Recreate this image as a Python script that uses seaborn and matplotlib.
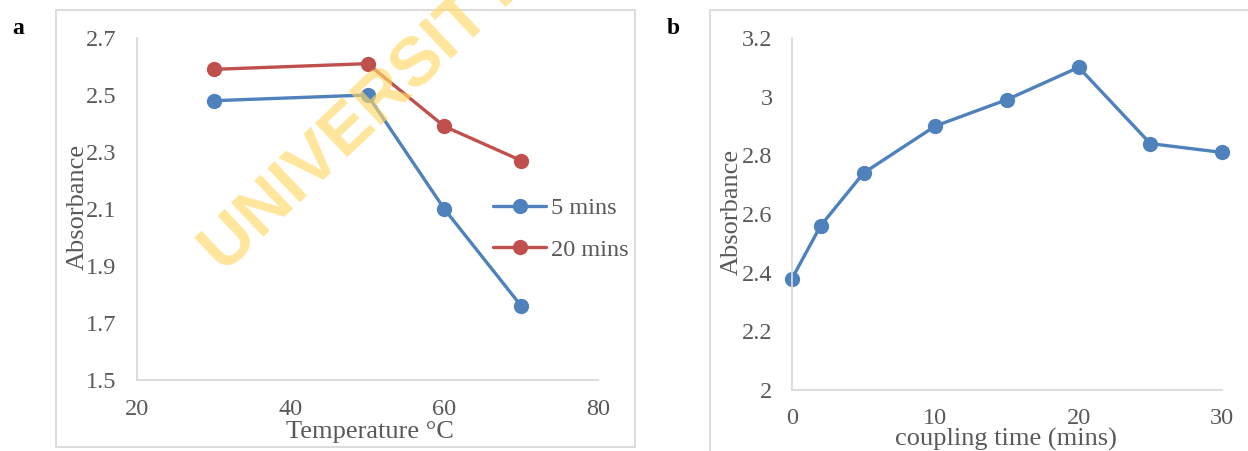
import numpy as np
import pandas as pd
import matplotlib
matplotlib.use("Agg")
import matplotlib.pyplot as plt
from matplotlib.patches import Rectangle
from matplotlib.ticker import FuncFormatter
import seaborn as sns

# data
temp = [30, 50, 60, 70]
abs_5min = [2.48, 2.50, 2.10, 1.76]
abs_20min = [2.59, 2.61, 2.39, 2.27]
series_names = ["5 mins", "20 mins"]

coupling_time = [0, 2, 5, 10, 15, 20, 25, 30]
abs_coupling = [2.38, 2.56, 2.74, 2.90, 2.99, 3.10, 2.84, 2.81]

blue = "#4F81BD"
red = "#C0504D"
grey_txt = "#595959"
grey_line = "#D9D9D9"

sns.set_style("white")
plt.rcParams["font.family"] = ["Liberation Serif", "DejaVu Serif"]

W, H = 1248, 451
fig = plt.figure(figsize=(W / 100, H / 100), dpi=100)

def fx(px):
    return px / W

def fy(py):
    return 1 - py / H

# chart-area borders
fig.patches.append(Rectangle((fx(56), fy(447)), fx(635 - 56), fy(10) - fy(447),
                             transform=fig.transFigure, fill=False, ec=grey_line, lw=1.3))
fig.patches.append(Rectangle((fx(710), fy(470)), fx(600), fy(10) - fy(470),
                             transform=fig.transFigure, fill=False, ec=grey_line, lw=1.3))

ax1 = fig.add_axes([fx(137), fy(380), fx(598 - 137), fy(38) - fy(380)])
ax2 = fig.add_axes([fx(792), fy(390), fx(1222 - 792), fy(38) - fy(390)])

df_a = pd.DataFrame({
    "temp": temp * 2,
    "absorbance": abs_5min + abs_20min,
    "time": [series_names[0]] * len(temp) + [series_names[1]] * len(temp),
})
df_b = pd.DataFrame({"time": coupling_time, "absorbance": abs_coupling})

sns.lineplot(data=df_a, x="temp", y="absorbance", hue="time", hue_order=series_names,
             palette=[blue, red], marker="o", markersize=11, markeredgewidth=0,
             linewidth=2.4, ax=ax1, clip_on=False)
sns.lineplot(data=df_b, x="time", y="absorbance", color=blue, marker="o", markersize=11,
             markeredgewidth=0, linewidth=2.4, ax=ax2, clip_on=False)

fmt = FuncFormatter(lambda v, p: "{:g}".format(round(v, 2)))

for ax in (ax1, ax2):
    for s in ("top", "right"):
        ax.spines[s].set_visible(False)
    for s in ("left", "bottom"):
        ax.spines[s].set_color(grey_line)
        ax.spines[s].set_linewidth(1.3)
    ax.tick_params(length=0, labelsize=17.5, labelcolor=grey_txt)
    ax.yaxis.set_major_formatter(fmt)
    ax.set_xlabel("")
    ax.set_ylabel("")
    ax.set_facecolor("none")

ax1.set_xlim(20, 80)
ax1.set_xticks([20, 40, 60, 80])
ax1.set_ylim(1.5, 2.7)
ax1.set_yticks(np.arange(1.5, 2.71, 0.2))
ax1.tick_params(axis="y", pad=15)
ax1.tick_params(axis="x", pad=14)

ax2.set_xlim(0, 30)
ax2.set_xticks([0, 10, 20, 30])
ax2.set_ylim(2, 3.2)
ax2.set_yticks(np.arange(2, 3.21, 0.2))
ax2.tick_params(axis="y", pad=14)
ax2.tick_params(axis="x", pad=13)

handles, labels = ax1.get_legend_handles_labels()
ax1.legend(handles, labels, loc="center left", bbox_to_anchor=(fx(493), fy(229)),
           bbox_transform=fig.transFigure, frameon=False, fontsize=17.5,
           handlelength=2.2, handletextpad=0.2, labelspacing=0.8,
           borderpad=0, borderaxespad=0, labelcolor=grey_txt)

# axis titles
fig.text(fx(370), fy(432), "Temperature °C", ha="center", va="center", fontsize=19, color=grey_txt)
fig.text(fx(78), fy(207), "Absorbance", ha="center", va="center", rotation=90, fontsize=19, color=grey_txt)
fig.text(fx(1006), fy(439), "coupling time (mins)", ha="center", va="center", fontsize=19, color=grey_txt)
fig.text(fx(732), fy(212), "Absorbance", ha="center", va="center", rotation=90, fontsize=19, color=grey_txt)

# panel letters
fig.text(fx(18), fy(28), "a", ha="center", va="center", fontsize=17, fontweight="bold", color="black")
fig.text(fx(673), fy(28), "b", ha="center", va="center", fontsize=17, fontweight="bold", color="black")

# watermark
fig.text(fx(225), fy(275), "UNIVERSITY OF IBADAN", ha="left", va="baseline", rotation=43.5,
         rotation_mode="anchor", fontsize=50, fontweight="bold", family="Liberation Sans",
         color="#FFD966", alpha=0.65, zorder=10)

fig.savefig("out.png", dpi=100)
